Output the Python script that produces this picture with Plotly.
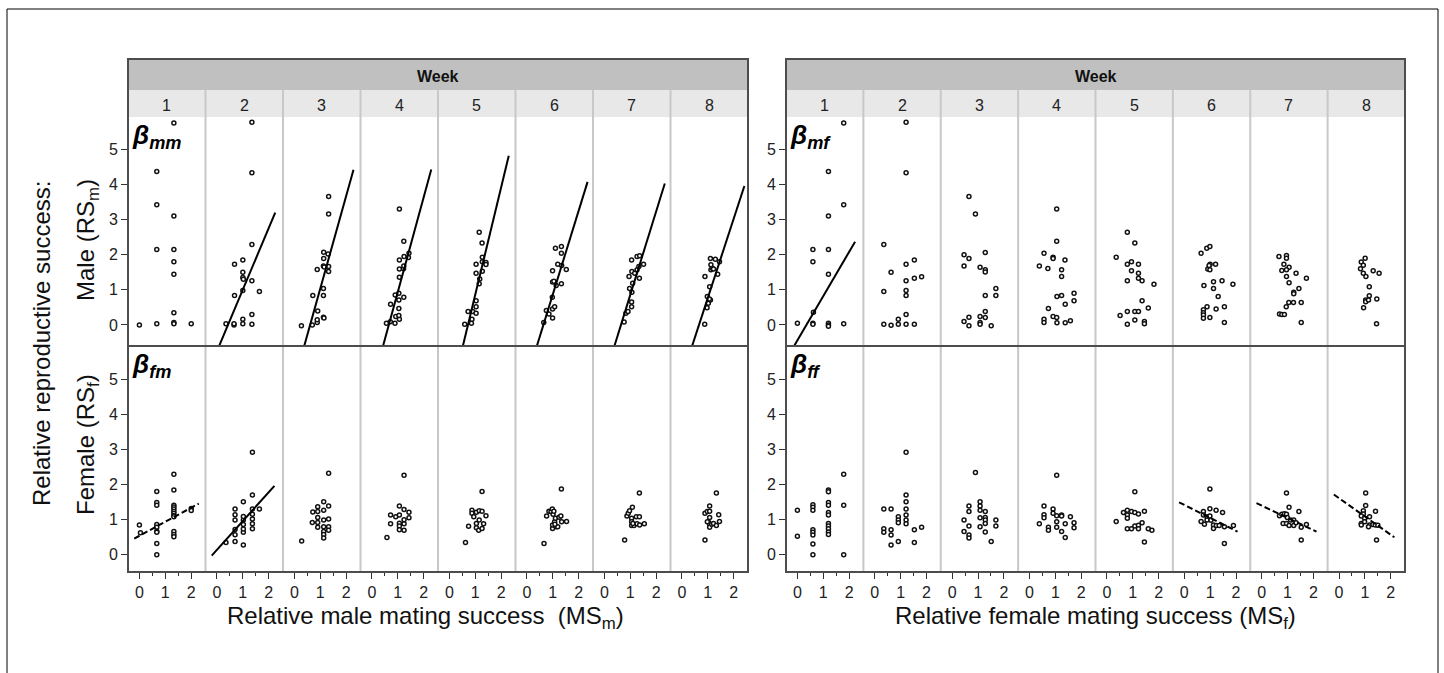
import plotly.graph_objects as go

W, H = 1444, 673
WEEKS = ["1", "2", "3", "4", "5", "6", "7", "8"]

# ---------------- data: beta_mm (male RS vs male MS) ----------------
MM_X = [
    [0, 0.67, 0.67, 0.67, 0.67, 1.33, 1.33, 1.33, 1.33, 1.33, 1.33, 1.33, 1.33, 2.0],
    [0.35, 0.66, 0.66, 0.68, 0.68, 1.0, 1.0, 1.0, 1.02, 1.0, 1.0, 1.0, 1.35, 1.35, 1.35, 1.35, 1.35, 1.35, 1.64],
    [0.27, 0.69, 0.88, 0.88, 0.9, 0.71, 1.12, 1.12, 1.12, 1.14, 0.88, 1.12, 1.15, 1.32, 1.32, 1.13, 1.13, 1.3, 1.32, 1.32],
    [0.56, 0.71, 0.89, 0.92, 1.06, 1.04, 0.72, 1.04, 1.04, 0.9, 1.04, 1.23, 1.06, 1.06, 1.22, 1.06, 1.23, 1.24, 1.41, 1.43, 1.23, 1.06],
    [0.59, 0.85, 0.87, 0.72, 0.9, 1.03, 1.03, 1.03, 1.15, 1.17, 1.03, 1.03, 1.27, 1.27, 1.41, 1.41, 1.27, 1.26, 1.15],
    [0.65, 0.75, 0.85, 0.99, 0.99, 1.07, 0.98, 0.99, 1.04, 1.13, 1.33, 0.99, 1.19, 1.34, 1.52, 1.33, 1.1, 1.33],
    [0.76, 0.83, 0.91, 1.05, 1.05, 1.06, 0.97, 1.09, 0.95, 1.06, 1.17, 1.26, 1.35, 1.33, 1.51, 1.05, 1.26, 1.36],
    [0.88, 0.97, 1.02, 1.1, 0.98, 1.06, 1.07, 0.89, 1.12, 1.18, 1.22, 1.38, 1.12, 1.1, 1.29, 1.45],
]
MM_Y = [
    [0, 4.37, 3.42, 2.15, 0.03, 5.75, 3.1, 2.15, 1.8, 1.44, 0.35, 0.07, 0.03, 0.03],
    [0.03, 0.0, 0.03, 1.73, 0.84, 1.85, 1.5, 1.35, 1.3, 0.98, 0.16, 0.03, 5.77, 4.33, 2.29, 1.26, 0.3, 0.02, 0.95],
    [-0.02, 0.0, 0.07, 0.15, 0.4, 0.84, 0.84, 1.04, 0.22, 0.2, 1.58, 1.68, 1.65, 1.52, 1.66, 1.89, 2.07, 2.02, 3.16, 3.66],
    [0.05, 0.09, 0.05, 0.24, 0.16, 0.27, 0.59, 0.47, 0.71, 0.85, 0.9, 0.79, 1.36, 1.59, 1.6, 1.85, 1.68, 1.95, 1.92, 2.04, 2.38, 3.3],
    [0.02, 0.05, 0.16, 0.38, 0.38, 0.52, 0.33, 0.69, 1.17, 1.31, 1.47, 1.73, 1.53, 1.8, 1.78, 1.72, 1.93, 2.33, 2.64],
    [0.07, 0.41, 0.31, 0.2, 0.45, 0.52, 0.79, 1.22, 1.24, 1.12, 1.17, 1.54, 1.73, 1.69, 1.58, 2.04, 2.18, 2.23],
    [0.08, 0.33, 0.38, 0.52, 0.65, 0.93, 1.04, 1.19, 1.38, 1.52, 1.47, 1.57, 1.33, 1.66, 1.73, 1.85, 1.95, 1.97],
    [0.02, 0.49, 0.62, 0.71, 0.81, 0.74, 1.09, 1.38, 1.57, 1.61, 1.59, 1.44, 1.71, 1.89, 1.87, 1.8],
]

# ---------------- data: beta_fm (female RS vs male MS) ----------------
FM_X = [
    [0, 0.04, 0.67, 0.67, 0.67, 0.67, 0.67, 0.67, 0.67, 0.67, 0.67, 1.33, 1.33, 1.33, 1.33, 1.33, 1.33, 1.33, 1.33, 1.33, 1.33, 1.33, 1.33, 2.0, 2.0],
    [0.35, 0.7, 0.7, 0.7, 0.7, 0.7, 0.7, 1.02, 1.02, 1.02, 1.02, 1.02, 1.02, 1.02, 1.37, 1.37, 1.37, 1.37, 1.37, 1.37, 1.37, 1.64],
    [0.28, 0.69, 0.71, 0.9, 0.9, 0.9, 0.9, 0.9, 1.13, 1.13, 1.13, 1.13, 1.13, 1.13, 1.13, 1.32, 1.32, 1.32, 1.32, 1.32],
    [0.58, 0.72, 0.72, 0.92, 1.06, 1.06, 1.06, 1.06, 1.06, 1.24, 1.24, 1.24, 1.24, 1.24, 1.43, 1.43],
    [0.62, 0.74, 0.87, 0.87, 0.94, 1.04, 1.04, 1.04, 1.13, 1.15, 1.26, 1.15, 1.26, 1.26, 1.41, 1.32],
    [0.66, 0.76, 0.85, 0.93, 0.98, 1.01, 1.04, 0.99, 0.99, 1.07, 1.1, 1.13, 1.19, 1.24, 1.31, 1.34, 1.53, 1.33, 1.08],
    [0.78, 0.87, 0.92, 0.97, 1.08, 1.05, 1.05, 1.05, 1.14, 1.23, 1.35, 1.26, 1.36, 1.54, 1.35, 1.1],
    [0.89, 0.89, 0.98, 1.07, 1.07, 1.07, 1.02, 1.07, 1.07, 1.15, 1.22, 1.33, 1.42, 1.45, 1.33, 0.98],
]
FM_Y = [
    [0.85, 0.63, 1.8, 1.49, 1.41, 0.86, 0.78, 0.67, 0.64, 0.32, 0.0, 2.29, 1.84, 1.41, 1.36, 1.3, 1.24, 1.18, 1.12, 1.08, 0.66, 0.58, 0.51, 1.32, 1.26],
    [0.35, 0.38, 0.57, 0.72, 0.99, 1.14, 1.3, 0.28, 0.64, 0.73, 0.86, 0.99, 1.09, 1.51, 0.74, 0.88, 1.02, 1.15, 1.3, 1.7, 2.92, 1.3],
    [0.39, 0.92, 1.22, 1.37, 1.23, 1.06, 0.92, 0.78, 1.51, 1.27, 0.99, 0.8, 0.66, 0.58, 0.48, 2.32, 1.39, 1.02, 0.8, 0.7],
    [0.49, 0.88, 1.13, 1.08, 1.13, 1.39, 0.9, 0.82, 0.71, 0.88, 1.0, 1.29, 0.7, 2.26, 1.21, 1.05],
    [0.35, 0.81, 1.27, 1.18, 1.08, 1.21, 0.89, 0.77, 0.7, 1.25, 1.24, 0.99, 0.75, 1.8, 1.11, 0.88],
    [0.32, 1.1, 1.24, 1.23, 1.3, 1.15, 1.24, 0.75, 0.85, 0.94, 1.04, 0.8, 0.8, 1.07, 1.1, 0.94, 0.95, 1.87, 0.87],
    [0.42, 1.1, 1.18, 1.25, 1.35, 1.04, 0.94, 0.83, 0.83, 1.08, 1.08, 0.88, 0.85, 0.88, 1.76, 0.89],
    [0.42, 1.18, 1.23, 1.24, 1.39, 1.06, 0.93, 0.87, 0.78, 0.87, 0.89, 0.83, 1.14, 0.95, 1.76, 0.94],
]

# ---------------- data: beta_mf (male RS vs female MS) ----------------
MF_X = [
    [0, 0.6, 0.6, 0.6, 0.6, 0.62, 1.2, 1.2, 1.2, 1.2, 1.2, 1.2, 1.2, 1.79, 1.79, 1.79],
    [0.35, 0.63, 0.63, 0.35, 0.35, 0.91, 0.91, 1.21, 1.21, 1.21, 1.21, 1.21, 1.21, 1.21, 1.21, 1.53, 1.53, 1.53, 1.81],
    [0.46, 0.65, 0.65, 1.08, 1.08, 1.08, 1.28, 1.28, 1.51, 0.46, 0.46, 0.65, 1.08, 1.28, 1.28, 1.28, 1.28, 1.69, 1.69, 0.65, 0.9],
    [0.38, 0.56, 0.71, 0.91, 0.91, 1.05, 1.05, 1.37, 1.24, 1.24, 0.73, 0.56, 0.56, 0.91, 1.05, 1.06, 1.06, 1.24, 1.38, 1.38, 1.58, 1.72, 1.72],
    [0.36, 0.79, 0.79, 0.95, 0.95, 1.22, 1.22, 1.22, 1.36, 0.79, 1.08, 1.82, 1.36, 1.6, 0.51, 0.79, 1.08, 1.22, 1.08, 0.79, 1.45, 1.45],
    [0.65, 0.87, 0.99, 1.0, 1.21, 0.91, 0.99, 0.96, 0.76, 1.13, 1.13, 1.46, 1.88, 1.31, 0.88, 0.74, 0.74, 0.74, 0.74, 0.99, 1.23, 1.55, 1.55],
    [0.67, 0.96, 0.96, 0.86, 1.06, 0.78, 0.96, 1.33, 1.73, 0.96, 1.06, 1.44, 1.24, 1.24, 1.05, 1.23, 1.53, 0.95, 0.69, 0.78, 0.88, 1.53],
    [1.01, 0.86, 0.94, 0.83, 1.32, 1.55, 0.94, 1.04, 1.17, 1.17, 1.03, 1.03, 1.14, 1.46, 0.95, 1.45],
]
MF_Y = [
    [0.05, 2.15, 1.8, 0.05, 0.02, 0.36, 4.37, 3.1, 2.15, 1.44, 0.05, 0.0, -0.04, 5.75, 3.42, 0.03],
    [0.02, -0.01, 1.5, 0.95, 2.29, 0.02, 0.16, 0.02, 0.3, 0.84, 0.98, 1.26, 1.73, 5.77, 4.33, 0.02, 1.33, 1.85, 1.37],
    [0.1, 0.22, -0.02, 0.24, 0.07, 0.02, 0.21, 0.38, -0.02, 1.68, 2.0, 1.89, 1.64, 1.57, 1.51, 2.06, 0.84, 1.04, 0.84, 3.66, 3.16],
    [1.68, 2.04, 1.61, 1.93, 1.89, 3.3, 2.38, 1.85, 1.57, 1.38, 0.47, 0.16, 0.07, 0.24, 0.21, 0.06, 0.81, 0.84, 0.59, 0.06, 0.12, 0.9, 0.69],
    [1.93, 2.64, 1.73, 1.8, 1.54, 1.73, 1.47, 1.33, 1.26, 1.26, 2.33, 1.16, 0.69, 0.48, 0.27, 0.38, 0.38, 0.38, 0.14, 0.02, 0.1, 0.03],
    [2.04, 2.18, 2.23, 1.73, 1.73, 1.59, 1.57, 1.69, 1.12, 1.23, 1.04, 1.26, 1.16, 0.81, 0.52, 0.43, 0.35, 0.28, 0.19, 0.21, 0.45, 0.52, 0.07],
    [1.95, 1.98, 1.9, 1.73, 1.64, 1.55, 1.57, 1.47, 1.33, 1.38, 1.2, 1.04, 0.93, 0.89, 0.64, 0.64, 0.64, 0.52, 0.31, 0.3, 0.3, 0.07],
    [1.9, 1.79, 1.7, 1.6, 1.54, 1.47, 1.47, 1.38, 1.09, 0.83, 0.71, 0.66, 0.71, 0.74, 0.49, 0.03],
]

# ---------------- data: beta_ff (female RS vs female MS) ----------------
FF_X = [
    [0, 0, 0.6, 0.6, 0.6, 0.6, 0.6, 0.6, 0.6, 0.6, 1.2, 1.2, 1.2, 1.2, 1.2, 1.2, 1.2, 1.2, 1.2, 1.2, 1.2, 1.79, 1.79, 1.79],
    [0.35, 0.35, 0.35, 0.63, 0.63, 0.63, 0.63, 0.91, 0.91, 0.91, 0.91, 1.21, 1.21, 1.21, 1.21, 1.21, 1.21, 1.21, 1.53, 1.53, 1.81],
    [0.46, 0.46, 0.65, 0.65, 0.65, 0.65, 0.65, 0.9, 1.08, 1.08, 1.08, 1.08, 1.08, 1.28, 1.28, 1.28, 1.28, 1.28, 1.51, 1.69, 1.69],
    [0.38, 0.56, 0.56, 0.56, 0.73, 0.73, 0.91, 0.91, 1.05, 1.05, 1.05, 1.05, 1.24, 1.24, 1.24, 1.38, 1.38, 1.58, 1.72, 1.72],
    [0.36, 0.64, 0.79, 0.79, 0.79, 0.95, 1.08, 1.22, 1.08, 0.79, 0.95, 1.08, 1.22, 1.22, 1.36, 1.45, 1.45, 1.6, 1.74],
    [0.65, 0.74, 0.74, 0.78, 0.88, 0.88, 0.99, 0.99, 0.99, 1.03, 1.13, 1.13, 1.23, 1.24, 1.35, 1.48, 1.55, 1.55, 1.9],
    [0.69, 0.78, 0.88, 0.96, 0.83, 0.96, 1.06, 0.99, 1.12, 1.24, 1.06, 1.24, 1.44, 1.53, 1.73, 1.53, 0.96, 1.33],
    [0.94, 0.94, 0.86, 0.86, 1.03, 0.99, 0.99, 1.18, 1.41, 1.18, 1.31, 1.4, 1.5, 1.14, 1.45, 1.03, 0.86],
]
FF_Y = [
    [1.27, 0.53, 1.42, 1.35, 1.27, 0.71, 0.64, 0.56, 0.31, 0.0, 1.84, 1.79, 1.49, 1.41, 1.2, 1.13, 0.89, 0.82, 0.74, 0.65, 0.58, 2.29, 1.41, 0.0],
    [1.3, 0.74, 0.64, 1.3, 0.71, 0.56, 0.28, 1.08, 0.99, 0.91, 0.38, 2.92, 1.7, 1.51, 1.3, 1.13, 0.99, 0.88, 0.71, 0.35, 0.78],
    [0.99, 0.66, 1.39, 1.23, 0.82, 0.56, 0.48, 2.34, 1.51, 1.39, 1.27, 1.05, 0.8, 1.23, 1.06, 0.99, 0.89, 0.65, 0.38, 0.99, 0.82],
    [0.88, 1.39, 1.14, 1.05, 0.78, 0.7, 1.3, 1.18, 1.11, 0.94, 0.78, 2.26, 1.13, 1.1, 0.66, 0.88, 0.49, 1.08, 0.91, 0.77],
    [0.95, 1.2, 1.27, 1.13, 1.04, 1.23, 1.2, 1.16, 1.79, 0.74, 0.74, 0.82, 0.84, 0.74, 0.91, 1.24, 0.36, 0.74, 0.7],
    [0.95, 1.23, 1.13, 0.87, 1.08, 0.99, 1.31, 1.1, 1.87, 0.98, 0.85, 0.75, 1.27, 0.83, 0.83, 1.2, 0.8, 0.32, 0.83],
    [1.11, 1.15, 1.17, 1.15, 0.89, 0.89, 1.35, 1.06, 0.99, 0.99, 0.83, 0.83, 1.23, 0.78, 0.86, 0.42, 1.76, 0.91],
    [1.25, 1.16, 1.1, 0.89, 1.4, 1.04, 0.94, 1.08, 1.24, 0.85, 0.86, 0.85, 0.84, 0.8, 0.42, 1.76, 0.85],
]

# ---------------- regression lines: slope, intercept, x end, style per week ----------------
MM_SLOPE = [None, 1.755, 2.64, 2.70, 3.06, 2.39, 2.38, 2.26]
MM_INTERCEPT = [None, -0.75, -1.60, -1.76, -2.19, -1.52, -1.52, -1.49]
MM_XEND = [None, 2.25, 2.28, 2.29, 2.29, 2.34, 2.33, 2.41]
MM_STYLE = [None, "solid", "solid", "solid", "solid", "solid", "solid", "solid"]

MF_SLOPE = [1.26, None, None, None, None, None, None, None]
MF_INTERCEPT = [-0.44, None, None, None, None, None, None, None]
MF_XEND = [2.23, None, None, None, None, None, None, None]
MF_STYLE = ["solid", None, None, None, None, None, None, None]

FM_SLOPE = [0.40, 0.82, None, None, None, None, None, None]
FM_INTERCEPT = [0.54, 0.14, None, None, None, None, None, None]
FM_XEND = [2.29, 2.22, None, None, None, None, None, None]
FM_STYLE = ["dash", "solid", None, None, None, None, None, None]

FF_SLOPE = [None, None, None, None, None, -0.37, -0.35, -0.52]
FF_INTERCEPT = [None, None, None, None, None, 1.42, 1.40, 1.61]
FF_XEND = [None, None, None, None, None, 2.06, 2.12, 2.14]
FF_STYLE = [None, None, None, None, None, "dash", "dash", "dash"]

LINE_XSTART = -0.2

X_TICKS = [0, 1, 2]
X_MINOR = [0.5, 1.5]
Y_TICKS = [0, 1, 2, 3, 4, 5]

# ---------------- layout geometry (pixels) ----------------
FONT = "Liberation Sans, Arial, sans-serif"
PANEL_X = [(128, 748), (786, 1405)]
ROW_Y = [(117, 346), (346, 572)]
STRIP_DARK = (59, 90)
STRIP_LIGHT = (90, 117)
X_RANGE = [-0.44, 2.55]
Y_RANGES = [[-0.6, 5.92], [-0.49, 5.94]]


def fx(px):
    return px / W


def fy(py):
    return 1 - py / H


panels = [
    (0, 0, MM_X, MM_Y, MM_SLOPE, MM_INTERCEPT, MM_XEND, MM_STYLE),
    (0, 1, FM_X, FM_Y, FM_SLOPE, FM_INTERCEPT, FM_XEND, FM_STYLE),
    (1, 0, MF_X, MF_Y, MF_SLOPE, MF_INTERCEPT, MF_XEND, MF_STYLE),
    (1, 1, FF_X, FF_Y, FF_SLOPE, FF_INTERCEPT, FF_XEND, FF_STYLE),
]

fig = go.Figure()
layout_axes = {}
DARK = "#4d4d4d"
TICKC = "#333333"

for (p, r, XS, YS, SL, IC, XE, ST) in panels:
    px0, px1 = PANEL_X[p]
    colw = (px1 - px0) / 8
    ry0, ry1 = ROW_Y[r]
    for w in range(8):
        idx = p * 16 + r * 8 + w + 1
        xname = "x" if idx == 1 else f"x{idx}"
        yname = "y" if idx == 1 else f"y{idx}"
        xkey = "xaxis" if idx == 1 else f"xaxis{idx}"
        ykey = "yaxis" if idx == 1 else f"yaxis{idx}"
        cx0 = px0 + w * colw
        cx1 = cx0 + colw
        xa = dict(domain=[fx(cx0), fx(cx1)], range=X_RANGE, anchor=yname,
                  showgrid=False, zeroline=False, showline=False, fixedrange=True)
        if r == 1:
            xa.update(tickmode="array", tickvals=X_TICKS, ticktext=[str(v) for v in X_TICKS],
                      ticks="outside", ticklen=6, tickwidth=1.3, tickcolor=TICKC,
                      tickfont=dict(family=FONT, size=16, color="#222"),
                      minor=dict(tickmode="array", tickvals=X_MINOR, ticks="outside",
                                 ticklen=3, tickwidth=1.3, tickcolor=TICKC))
        else:
            xa.update(showticklabels=False, ticks="")
        ya = dict(domain=[fy(ry1), fy(ry0)], range=Y_RANGES[r], anchor=xname,
                  showgrid=False, zeroline=False, showline=False, fixedrange=True)
        if w == 0:
            ya.update(tickmode="array", tickvals=Y_TICKS, ticktext=[str(v) for v in Y_TICKS],
                      ticks="outside", ticklen=6, tickwidth=1.3, tickcolor=TICKC,
                      tickfont=dict(family=FONT, size=16, color="#222"))
        else:
            ya.update(showticklabels=False, ticks="")
        layout_axes[xkey] = xa
        layout_axes[ykey] = ya

        fig.add_trace(go.Scatter(
            x=XS[w], y=YS[w], mode="markers", xaxis=xname, yaxis=yname,
            marker=dict(size=4, color="white", line=dict(color="#111111", width=1.5)),
            showlegend=False, hoverinfo="skip"))
        if SL[w] is not None:
            lx = [LINE_XSTART, XE[w]]
            ly = [IC[w] + SL[w] * v for v in lx]
            fig.add_trace(go.Scatter(
                x=lx, y=ly, mode="lines", xaxis=xname, yaxis=yname,
                line=dict(color="black", width=2,
                          dash="solid" if ST[w] == "solid" else "6px,3px"),
                showlegend=False, hoverinfo="skip"))

shapes = []
annotations = []

# outer frame (left, top, right edges; bottom runs off the page)
shapes.append(dict(type="rect", xref="paper", yref="paper", x0=fx(7), x1=fx(1438),
                   y0=-0.05, y1=fy(9), line=dict(color="black", width=1), layer="below"))

for p in range(2):
    px0, px1 = PANEL_X[p]
    colw = (px1 - px0) / 8
    shapes.append(dict(type="rect", xref="paper", yref="paper", x0=fx(px0), x1=fx(px1),
                       y0=fy(STRIP_DARK[1]), y1=fy(STRIP_DARK[0]),
                       fillcolor="#c0c0c0", line=dict(width=0), layer="below"))
    shapes.append(dict(type="rect", xref="paper", yref="paper", x0=fx(px0), x1=fx(px1),
                       y0=fy(STRIP_LIGHT[1]), y1=fy(STRIP_LIGHT[0]),
                       fillcolor="#e8e8e8", line=dict(width=0), layer="below"))
    for w in range(1, 8):
        xs = px0 + w * colw
        shapes.append(dict(type="line", xref="paper", yref="paper", x0=fx(xs), x1=fx(xs),
                           y0=fy(ROW_Y[1][1]), y1=fy(STRIP_LIGHT[0]),
                           line=dict(color="#c8c8c8", width=2), layer="below"))
    shapes.append(dict(type="line", xref="paper", yref="paper", x0=fx(px0), x1=fx(px1),
                       y0=fy(ROW_Y[0][1]), y1=fy(ROW_Y[0][1]),
                       line=dict(color=DARK, width=2), layer="above"))
    shapes.append(dict(type="rect", xref="paper", yref="paper", x0=fx(px0), x1=fx(px1),
                       y0=fy(ROW_Y[1][1]), y1=fy(STRIP_DARK[0]),
                       line=dict(color=DARK, width=2), layer="above"))
    annotations.append(dict(xref="paper", yref="paper", x=fx((px0 + px1) / 2), y=fy(76),
                            text="<b>Week</b>", showarrow=False, xanchor="center", yanchor="middle",
                            font=dict(family=FONT, size=16, color="#111")))
    for w in range(8):
        annotations.append(dict(xref="paper", yref="paper", x=fx(px0 + (w + 0.5) * colw), y=fy(105),
                                text=WEEKS[w], showarrow=False, xanchor="center", yanchor="middle",
                                font=dict(family=FONT, size=16, color="#222")))

BETA_LABELS = [("mm", 0, 0), ("fm", 0, 1), ("mf", 1, 0), ("ff", 1, 1)]
for sub, p, r in BETA_LABELS:
    annotations.append(dict(xref="paper", yref="paper", x=fx(PANEL_X[p][0] + 2), y=fy(ROW_Y[r][0] + 1),
                            text=f"<b><i>β</i></b><sub><b><i>{sub}</i></b></sub>",
                            showarrow=False, xanchor="left", yanchor="top",
                            font=dict(family=FONT, size=26, color="black")))

annotations.append(dict(xref="paper", yref="paper", x=fx(41), y=fy(344),
                        text="Relative reproductive success:", textangle=-90, showarrow=False,
                        xanchor="center", yanchor="middle", font=dict(family=FONT, size=24, color="#111")))
annotations.append(dict(xref="paper", yref="paper", x=fx(87), y=fy(240),
                        text="Male (RS<sub>m</sub>)", textangle=-90, showarrow=False,
                        xanchor="center", yanchor="middle", font=dict(family=FONT, size=24, color="#111")))
annotations.append(dict(xref="paper", yref="paper", x=fx(87), y=fy(445),
                        text="Female (RS<sub>f</sub>)", textangle=-90, showarrow=False,
                        xanchor="center", yanchor="middle", font=dict(family=FONT, size=24, color="#111")))
annotations.append(dict(xref="paper", yref="paper", x=fx(425), y=fy(617),
                        text="Relative male mating success  (MS<sub>m</sub>)", showarrow=False,
                        xanchor="center", yanchor="middle", font=dict(family=FONT, size=24, color="#111")))
annotations.append(dict(xref="paper", yref="paper", x=fx(1095), y=fy(617),
                        text="Relative female mating success (MS<sub>f</sub>)", showarrow=False,
                        xanchor="center", yanchor="middle", font=dict(family=FONT, size=24, color="#111")))

fig.update_layout(
    width=W, height=H, autosize=False,
    margin=dict(l=0, r=0, t=0, b=0),
    paper_bgcolor="white", plot_bgcolor="rgba(0,0,0,0)",
    showlegend=False,
    shapes=shapes, annotations=annotations,
    **layout_axes,
)

fig.write_html(
    "out.html",
    config={"displayModeBar": False},
    post_script="document.body.style.margin='0';document.body.style.padding='0';"
                "document.body.style.overflow='hidden';",
)
